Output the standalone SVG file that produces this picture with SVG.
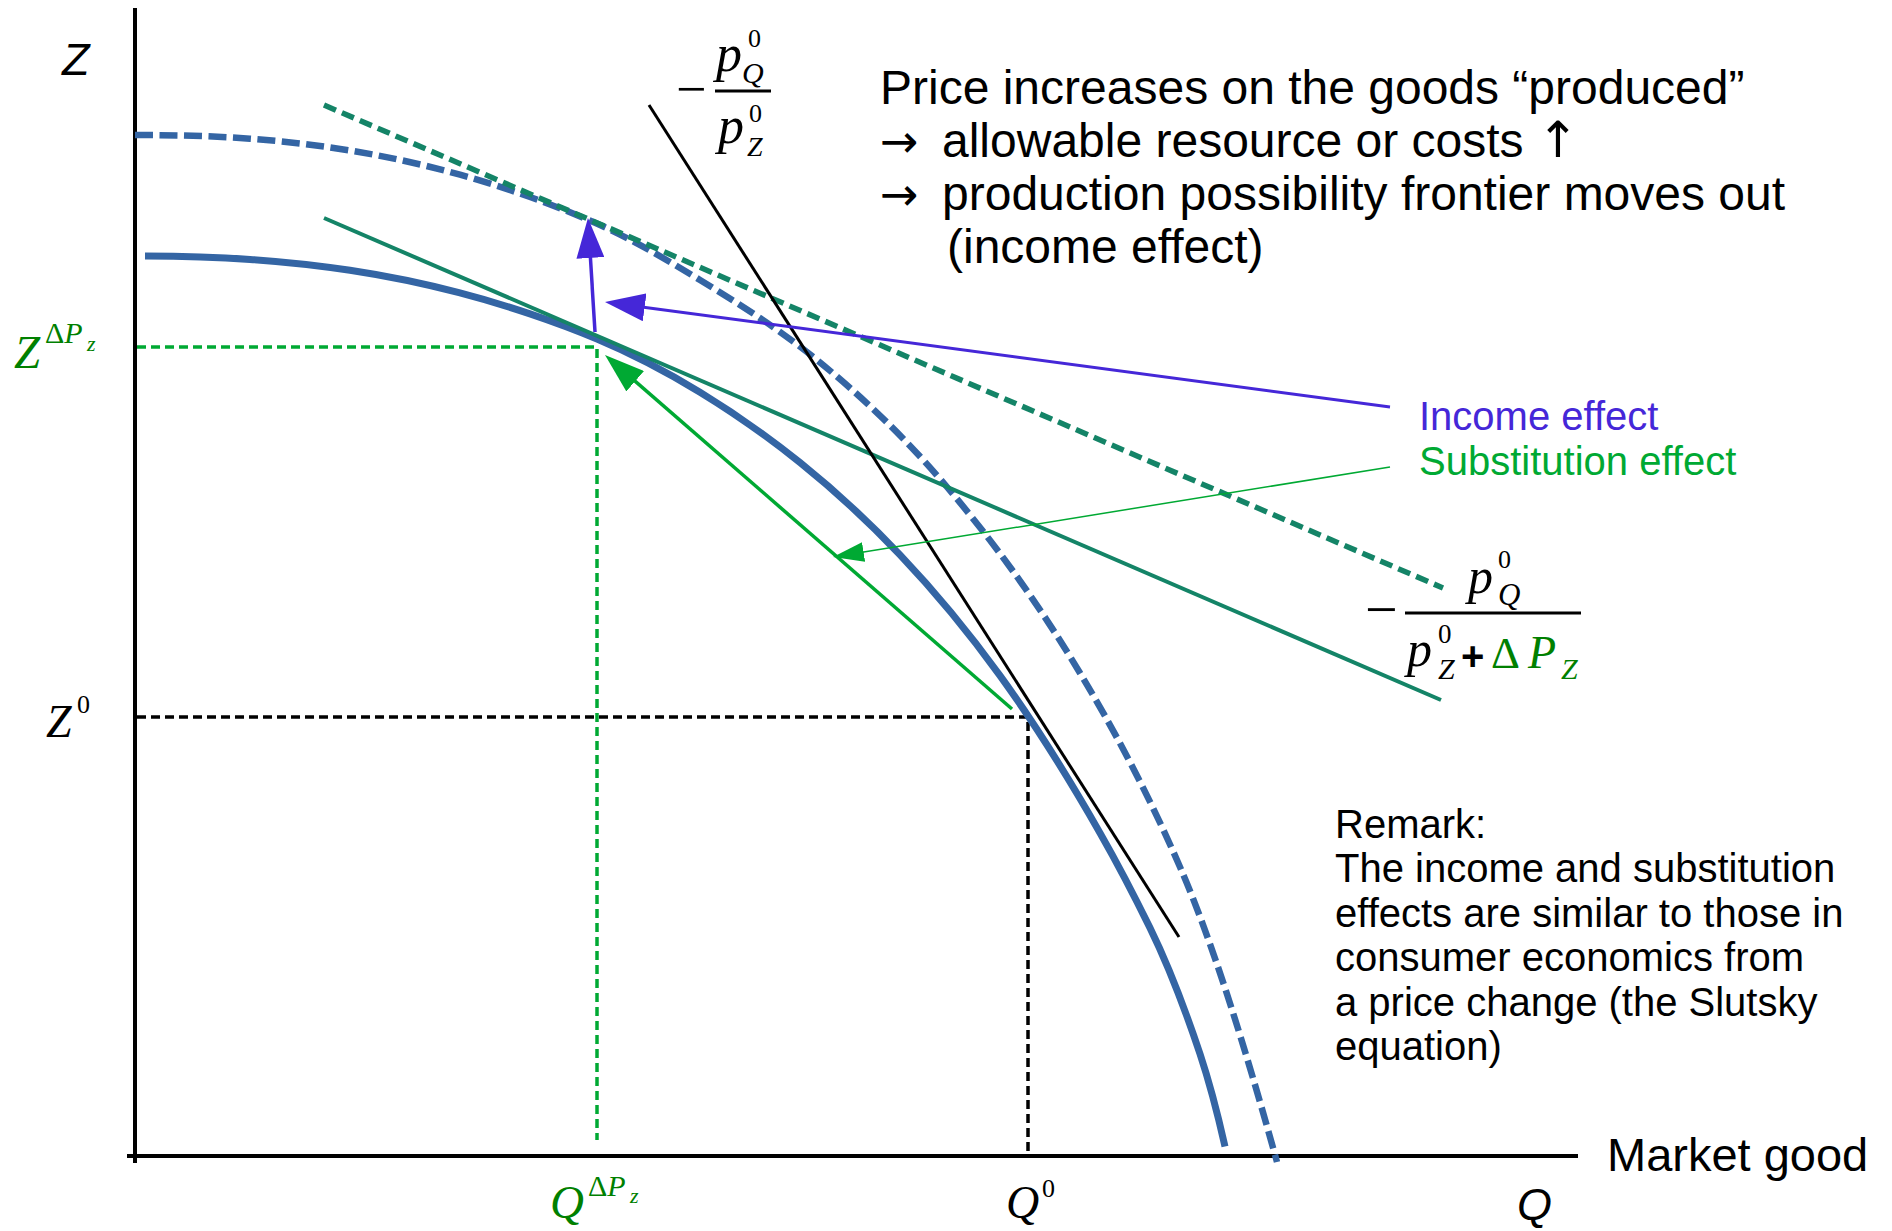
<svg xmlns="http://www.w3.org/2000/svg" width="1892" height="1231" viewBox="0 0 1892 1231">
<style>
.sans{font-family:"Liberation Sans",Arial,sans-serif}
.arrowglyph{font-family:"DejaVu Sans","Liberation Sans",sans-serif}
.math{font-family:"Liberation Serif","Times New Roman",serif;font-style:italic}
.up{font-style:normal}
.blk{fill:#000}
.grn{fill:#008000}
.axis{stroke:#000;stroke-width:4;fill:none}
.ppf{stroke:#3465A4;stroke-width:7;fill:none}
.ppf2{stroke:#3465A4;stroke-width:6.5;fill:none;stroke-dasharray:18 6.5}
.teal{stroke:#148467;stroke-width:4;fill:none}
.tealdash{stroke:#148467;stroke-width:5.5;fill:none;stroke-dasharray:13 6.5}
.dotg{stroke:#00A933;stroke-width:3.5;fill:none;stroke-dasharray:9 5}
.dotk{stroke:#000;stroke-width:3.5;fill:none;stroke-dasharray:9 5}
.purple{stroke:#4527D8;fill:none}
.green{stroke:#00A933;fill:none}
</style>
<defs>
<marker id="headP" markerUnits="userSpaceOnUse" markerWidth="40" markerHeight="28" viewBox="0 0 40 28" refX="20" refY="14" orient="auto"><path d="M0,0 L40,14 L0,28 z" fill="#4527D8"/></marker>
<marker id="headG" markerUnits="userSpaceOnUse" markerWidth="40" markerHeight="27" viewBox="0 0 40 27" refX="20" refY="13.5" orient="auto"><path d="M0,0 L40,13.5 L0,27 z" fill="#00A933"/></marker>
<marker id="headGs" markerUnits="userSpaceOnUse" markerWidth="31" markerHeight="20" viewBox="0 0 31 20" refX="15.5" refY="10" orient="auto"><path d="M0,0 L31,10 L0,20 z" fill="#00A933"/></marker>
</defs>
<rect width="1892" height="1231" fill="#fff"/>

<g id="axes">
<line class="axis" x1="135" y1="8" x2="135" y2="1163"/>
<line class="axis" x1="127" y1="1156" x2="1578" y2="1156"/>
</g>

<g id="guides">
<path class="dotg" d="M137,347 H597 V1140"/>
<path class="dotk" d="M137,717 H1028 V1154"/>
</g>

<g id="ppf-new">
<path class="ppf2" d="M135,135 C173.3,135 211.7,135.9 250,138.7 C283.3,141.2 316.7,145 350,150.5 C386.7,156.5 423.3,164.5 460,174.7 C483.3,181.2 506.7,188.7 530,197 C550.3,204.3 570.7,212.3 591,221 C627.3,236.6 663.7,257.8 700,280 C739,303.8 778,328.4 817,360 C860.3,395.1 903.7,435.9 947,487 C991.3,539.3 1035.7,599 1080,673 C1113.3,728.7 1146.7,790.3 1180,867 C1212.3,941.4 1244.7,1045.6 1277,1162"/>
</g>

<g id="ppf-old">
<path class="ppf" d="M145,256 C180,256.1 215,257 250,259.4 C283.3,261.7 316.7,265.2 350,270.3 C386.3,275.8 422.7,283.2 459,292.7 C482.7,298.9 506.3,305.9 530,313.9 C552.3,321.4 574.7,329.6 597,339 C631.3,353.4 665.7,371.3 700,392.2 C733.3,412.5 766.7,435.8 800,462.5 C833.3,489.2 866.7,519.8 900,554.8 C933.3,589.8 966.7,629.6 1000,675.6 C1033.3,721.6 1066.7,774.6 1100,832.9 C1116.7,862.1 1133.3,893.7 1150,927.9 C1166.7,962.1 1183.3,1003.9 1200,1053.9 C1208.3,1078.9 1216.7,1109.7 1225,1146.4"/>
</g>

<g id="price-lines">
<line class="tealdash" x1="324" y1="105" x2="1443" y2="588"/>
<line class="teal" x1="324" y1="218" x2="1441" y2="700"/>
<line stroke="#000" stroke-width="3" x1="649" y1="105" x2="1179" y2="937"/>
</g>

<g id="connectors">
<line class="purple" stroke-width="3.5" x1="595" y1="332" x2="589.2" y2="238" marker-end="url(#headP)"/>
<line class="purple" stroke-width="3" x1="1390" y1="407" x2="624.8" y2="304.7" marker-end="url(#headP)"/>
<line class="green" stroke-width="3.5" x1="1012" y1="709" x2="620.1" y2="368.1" marker-end="url(#headG)"/>
<line class="green" stroke-width="1.5" x1="1390" y1="467" x2="848.3" y2="554.5" marker-end="url(#headGs)"/>
</g>

<g id="label-Z">
<text class="sans" x="62" y="75" font-size="45" font-style="italic">Z</text>
</g>
<g id="label-Q">
<text class="sans" x="1517" y="1220" font-size="45" font-style="italic">Q</text>
</g>
<g id="label-market">
<text class="sans" x="1607" y="1171" font-size="47">Market good</text>
</g>

<g id="label-Z0" class="math blk">
<text x="46" y="737" font-size="46">Z</text>
<text class="up" x="77" y="713" font-size="26">0</text>
</g>
<g id="label-ZdP" class="math grn">
<text x="14" y="368" font-size="47">Z</text>
<text x="45" y="343" font-size="30"><tspan class="up">Δ</tspan>P</text>
<text x="87" y="351" font-size="22">z</text>
</g>
<g id="label-Q0" class="math blk">
<text x="1006" y="1218" font-size="46">Q</text>
<text class="up" x="1042" y="1197" font-size="26">0</text>
</g>
<g id="label-QdP" class="math grn">
<text x="550" y="1218" font-size="47">Q</text>
<text x="588" y="1196" font-size="30"><tspan class="up">Δ</tspan>P</text>
<text x="630" y="1203" font-size="22">z</text>
</g>

<g id="slope-old" class="math blk">
<text class="up" x="676" y="107" font-size="54">−</text>
<line x1="715" y1="91" x2="771" y2="91" stroke="#000" stroke-width="3"/>
<text x="716" y="71" font-size="52">p</text>
<text class="up" x="748" y="47" font-size="26">0</text>
<text x="742" y="83" font-size="30">Q</text>
<text x="718" y="143" font-size="52">p</text>
<text class="up" x="749" y="122" font-size="26">0</text>
<text x="747" y="156" font-size="28">Z</text>
</g>

<g id="slope-new" class="math blk">
<text class="up" x="1365" y="629" font-size="58">−</text>
<line x1="1405" y1="613" x2="1581" y2="613" stroke="#000" stroke-width="3"/>
<text x="1468" y="593" font-size="50">p</text>
<text class="up" x="1498" y="568" font-size="26">0</text>
<text x="1498" y="605" font-size="31">Q</text>
<text x="1407" y="666" font-size="50">p</text>
<text class="up" x="1438" y="643" font-size="27">0</text>
<text x="1438" y="679" font-size="30">Z</text>
<text class="up sans" x="1461" y="670" font-size="40" font-weight="bold">+</text>
<text class="up grn" x="1491" y="668" font-size="45">Δ</text>
<text class="grn" x="1528" y="668" font-size="46">P</text>
<text class="grn" x="1561" y="679" font-size="30">Z</text>
</g>

<g id="note-top" class="sans" font-size="48">
<text x="880" y="104">Price increases on the goods “produced”</text>
<text y="157"><tspan class="arrowglyph" x="880" font-size="46">→</tspan><tspan x="942">allowable resource or costs </tspan><tspan class="arrowglyph" font-size="50">↑</tspan></text>
<text y="210"><tspan class="arrowglyph" x="880" font-size="46">→</tspan><tspan x="942">production possibility frontier moves out</tspan></text>
<text x="947" y="263">(income effect)</text>
</g>

<g id="legend" class="sans" font-size="40">
<text x="1419" y="430" fill="#4527D8">Income effect</text>
<text x="1419" y="475" fill="#00A933">Substitution effect</text>
</g>

<g id="remark" class="sans" font-size="40">
<text x="1335" y="838">Remark:</text>
<text x="1335" y="882">The income and substitution</text>
<text x="1335" y="927">effects are similar to those in</text>
<text x="1335" y="971">consumer economics from</text>
<text x="1335" y="1016">a price change (the Slutsky</text>
<text x="1335" y="1060">equation)</text>
</g>
</svg>
